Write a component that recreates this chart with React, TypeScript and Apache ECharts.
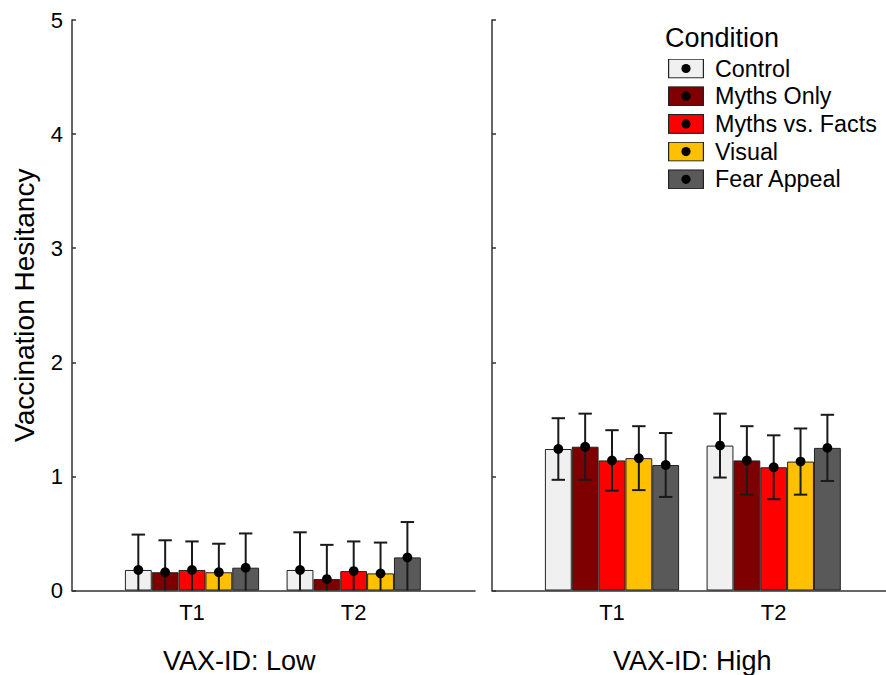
import React, { useEffect, useRef } from 'react';
import * as echarts from 'echarts';

const categories = ['T1', 'T2'];
const conditions = ['Control', 'Myths Only', 'Myths vs. Facts', 'Visual', 'Fear Appeal'];
const colors = ['#f0f0f0', '#7f0000', '#ff0000', '#ffc000', '#595959'];

// VAX-ID: Low
const lowT1 = [0.18, 0.16, 0.18, 0.16, 0.20];
const lowT2 = [0.18, 0.10, 0.17, 0.15, 0.29];
const lowT1Err = [0.31, 0.28, 0.25, 0.25, 0.30];
const lowT2Err = [0.33, 0.30, 0.26, 0.27, 0.31];
// VAX-ID: High
const highT1 = [1.24, 1.26, 1.14, 1.16, 1.10];
const highT2 = [1.27, 1.14, 1.08, 1.13, 1.25];
const highT1Err = [0.27, 0.29, 0.265, 0.28, 0.28];
const highT2Err = [0.28, 0.30, 0.28, 0.29, 0.29];

const panelTitles = ['VAX-ID: Low', 'VAX-ID: High'];
const yTitle = 'Vaccination Hesitancy';
const legendTitle = 'Condition';

const FONT = '"Liberation Sans", Arial, Helvetica, sans-serif';
const AXIS_COLOR = '#333';
const CAT_GAP = 0.17;

function iconFor(color: string) {
  const svg = `<svg xmlns='http://www.w3.org/2000/svg' width='36' height='20' viewBox='0 0 36 20'><rect x='0.6' y='0.6' width='34.8' height='18.8' fill='${color}' stroke='#222' stroke-width='1.2'/><circle cx='18' cy='10' r='4.6' fill='#000'/></svg>`;
  return 'image://data:image/svg+xml;charset=utf-8,' + encodeURIComponent(svg);
}

function errData(t1: number[], t2: number[], e1: number[], e2: number[]) {
  const out: number[][] = [];
  [t1, t2].forEach((arr, cat) => {
    arr.forEach((m, ci) => {
      out.push([cat, ci, m, cat === 0 ? e1[ci] : e2[ci]]);
    });
  });
  return out;
}

const renderErr = (params: any, api: any) => {
  const cat = api.value(0);
  const ci = api.value(1);
  const m = api.value(2);
  const e = api.value(3);
  const band = api.size([1, 0])[0];
  const barW = (band * (1 - CAT_GAP)) / conditions.length;
  const c = api.coord([cat, m]);
  const x = c[0] + (ci - (conditions.length - 1) / 2) * barW;
  const yTop = api.coord([cat, m + e])[1];
  const lowV = Math.max(0, m - e);
  const yBot = api.coord([cat, lowV])[1];
  const cap = 6.7;
  const st = { stroke: '#1a1a1a', lineWidth: 2 };
  const children: any[] = [
    { type: 'line', shape: { x1: x, y1: yTop, x2: x, y2: yBot }, style: st },
    { type: 'line', shape: { x1: x - cap, y1: yTop, x2: x + cap, y2: yTop }, style: st },
  ];
  if (m - e > 0) {
    children.push({ type: 'line', shape: { x1: x - cap, y1: yBot, x2: x + cap, y2: yBot }, style: st });
  }
  children.push({ type: 'circle', shape: { cx: x, cy: c[1], r: 4.9 }, style: { fill: '#000' } });
  return { type: 'group', children };
};

export default function App() {
  const ref = useRef<HTMLDivElement>(null);
  useEffect(() => {
    const chart = echarts.init(ref.current!, null, { renderer: 'svg' });
    const top = 20;
    const height = 570.5;
    const frameY = (showLabels: boolean, name: string) => ({
      type: 'value',
      min: 0,
      max: 5,
      interval: 1,
      axisLine: { show: true, lineStyle: { color: AXIS_COLOR, width: 1.5 } },
      axisTick: { show: true, inside: true, length: 4, lineStyle: { color: AXIS_COLOR, width: 1.5 } },
      axisLabel: { show: showLabels, fontSize: 22, color: '#000', fontFamily: FONT, margin: 9 },
      splitLine: { show: false },
      name,
      nameLocation: 'middle',
      nameGap: 34,
      nameTextStyle: { fontSize: 28, color: '#000', fontFamily: FONT },
    });
    const frameX = {
      type: 'value',
      min: 0,
      max: 1,
      axisLine: { show: true, onZero: false, lineStyle: { color: AXIS_COLOR, width: 1.5 } },
      axisTick: { show: false },
      axisLabel: { show: false },
      splitLine: { show: false },
    };
    const barX = {
      type: 'category',
      data: categories,
      axisLine: { show: false },
      axisTick: { show: false },
      axisLabel: { fontSize: 22, color: '#000', fontFamily: FONT, margin: 11 },
      splitLine: { show: false },
    };
    const hiddenY = { type: 'value', min: 0, max: 5, interval: 1, show: false };

    const barSeries = (panel: number, t1: number[], t2: number[]) =>
      conditions.map((name, ci) => ({
        type: 'bar',
        name,
        xAxisIndex: panel === 0 ? 1 : 3,
        yAxisIndex: panel === 0 ? 1 : 3,
        data: [t1[ci], t2[ci]],
        barGap: '0%',
        barCategoryGap: CAT_GAP * 100 + '%',
        itemStyle: { color: colors[ci], borderColor: '#222', borderWidth: 1 },
        z: 2,
      }));

    const option: any = {
      animation: false,
      textStyle: { fontFamily: FONT },
      grid: [
        { left: 72, top, width: 403, height },
        { left: 111.15, top, width: 323.4, height },
        { left: 492, top, width: 394, height },
        { left: 531.15, top, width: 323.4, height },
      ],
      xAxis: [
        { ...frameX, gridIndex: 0 },
        { ...barX, gridIndex: 1 },
        { ...frameX, gridIndex: 2 },
        { ...barX, gridIndex: 3 },
      ],
      yAxis: [
        { ...frameY(true, yTitle), gridIndex: 0 },
        { ...hiddenY, gridIndex: 1 },
        { ...frameY(false, ''), gridIndex: 2 },
        { ...hiddenY, gridIndex: 3 },
      ],
      legend: {
        orient: 'vertical',
        left: 668,
        top: 57,
        padding: 0,
        itemWidth: 36,
        itemHeight: 20,
        itemGap: 4.7,
        selectedMode: false,
        textStyle: { fontSize: 23.3, color: '#000', fontFamily: FONT, padding: [0, 0, 0, 6] },
        data: conditions.map((name, i) => ({ name, icon: iconFor(colors[i]) })),
      },
      graphic: [
        { type: 'text', left: 665, top: 24, style: { text: legendTitle, fontSize: 27, fill: '#000', fontFamily: FONT } },
        { type: 'text', left: 163, top: 647, style: { text: panelTitles[0], fontSize: 27, fill: '#000', fontFamily: FONT } },
        { type: 'text', left: 613, top: 647, style: { text: panelTitles[1], fontSize: 27, fill: '#000', fontFamily: FONT } },
      ],
      series: [
        ...barSeries(0, lowT1, lowT2),
        ...barSeries(1, highT1, highT2),
        {
          type: 'custom',
          name: 'errLow',
          xAxisIndex: 1,
          yAxisIndex: 1,
          renderItem: renderErr,
          encode: { x: 0, y: 2 },
          data: errData(lowT1, lowT2, lowT1Err, lowT2Err),
          z: 10,
        },
        {
          type: 'custom',
          name: 'errHigh',
          xAxisIndex: 3,
          yAxisIndex: 3,
          renderItem: renderErr,
          encode: { x: 0, y: 2 },
          data: errData(highT1, highT2, highT1Err, highT2Err),
          z: 10,
        },
      ],
    };
    chart.setOption(option);
    return () => chart.dispose();
  }, []);
  return <div ref={ref} style={{ position: 'fixed', left: 0, top: 0, width: 886, height: 675, background: '#fff' }} />;
}
